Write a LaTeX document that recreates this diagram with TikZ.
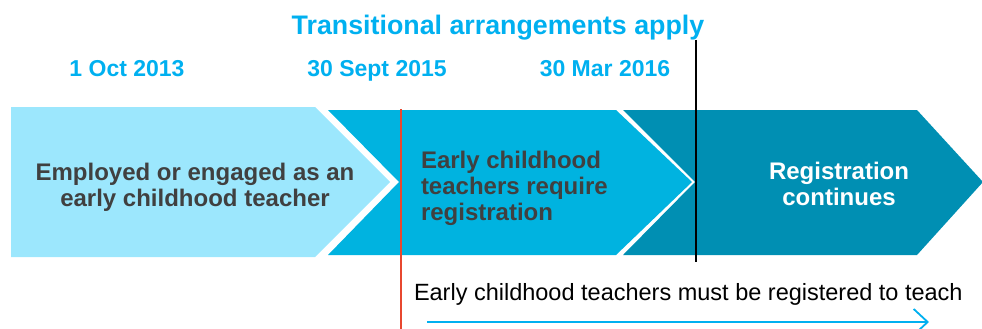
\documentclass[tikz,border=0pt]{standalone}
\usepackage{fontspec}
\setmainfont{Liberation Sans}
\usetikzlibrary{arrows.meta}
\definecolor{paleblue}{HTML}{9CE7FD}
\definecolor{midblue}{HTML}{00B3E0}
\definecolor{tealblue}{HTML}{008FB3}
\definecolor{headblue}{HTML}{00B0F0}
\definecolor{textgrey}{HTML}{404040}
\definecolor{markred}{HTML}{E8472F}
\tikzset{
	% ---- default
	every path/.style={line width=0.3pt},
	every node/.style={inner sep=0pt, outer sep=0pt},
	% ---- custom
	heading/.style={text=headblue, font=\fontsize{26.8}{30}\selectfont\bfseries},
	date label/.style={text=headblue, font=\fontsize{23}{28}\selectfont\bfseries},
	stage text/.style={text=textgrey, font=\fontsize{24}{26}\selectfont\bfseries, align=center},
	marker/.style={line width=1.6pt},
	timeline/.style={line width=1.8pt, headblue, -{Straight Barb[length=14pt, width=26pt, line width=1.8pt]}},
}

\begin{document}
\begin{tikzpicture}[x=1pt, y=-1pt]

% parameters %{{{2

	\def\tip{182}

	\useasboundingbox (0,0) rectangle (982,329);

% chevrons, stages %{{{2

	\fill[paleblue] (11,107) -- (315,107) -- (390,\tip) -- (315,257) -- (11,257) -- cycle;
	\fill[midblue] (328,110) -- (616,110) -- (692,\tip) -- (616,255) -- (328,255) -- (399,\tip) -- cycle;
	\fill[tealblue] (623,110) -- (917,110) -- (983,\tip) -- (917,255) -- (623,255) -- (695,\tip) -- cycle;

% coordinates %{{{2

	\coordinate (R1) at (401,109);
	\coordinate (R2) at (401,329);
	\coordinate (B1) at (696,40);
	\coordinate (B2) at (696,262);
	\coordinate (A1) at (427,322);
	\coordinate (A2) at (929,322);

% marker lines %{{{2

	\draw[marker, markred] (R1) -- (R2);
	\draw[marker, black] (B1) -- (B2);

% headings, dates %{{{2

	\node[heading, anchor=base] (trans) at (498,35) {Transitional arrangements apply};

	\node[date label, anchor=base] (start) at (127,76) {1 Oct 2013};
	\node[date label, anchor=base] (sept) at (377,76) {30 Sept 2015};
	\node[date label, anchor=base] (march) at (605,76) {30 Mar 2016};

% stage labels %{{{2

	\node[stage text] (employed) at (195,187) {Employed or engaged as an\\early childhood teacher};
	\node[stage text, align=left, anchor=west] (require) at (421,188) {Early childhood\\teachers require\\registration};
	\node[stage text, text=white] (continues) at (839,184) {Registration\\continues};

% timeline %{{{2

	\node[font=\fontsize{23.5}{28}\selectfont, anchor=base west] (must) at (414,300) {Early childhood teachers must be registered to teach};
	\draw[timeline] (A1) -- (A2);

% closing %{{{2

\end{tikzpicture}
\end{document}
